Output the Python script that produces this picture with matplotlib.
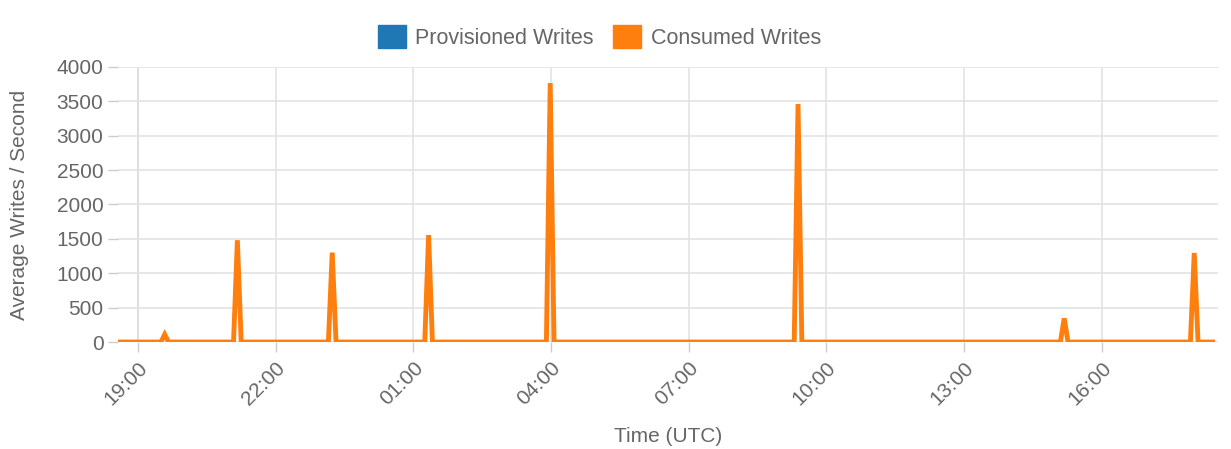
import matplotlib
matplotlib.use("Agg")
import matplotlib.pyplot as plt
import matplotlib.dates as mdates
from matplotlib.patches import Patch
import pandas as pd

# consumed writes: spike times and peak values (5 minute samples, zero otherwise)
spike_times = ["2018-01-01 19:35", "2018-01-01 21:10", "2018-01-01 23:14",
               "2018-01-02 01:20", "2018-01-02 03:59", "2018-01-02 09:23",
               "2018-01-02 15:11", "2018-01-02 18:01"]
spike_values = [110, 1480, 1300, 1555, 3765, 3460, 345, 1295]
series_start = "2018-01-01 18:35"
series_end = "2018-01-02 18:25"
tick_times = pd.date_range("2018-01-01 19:00", periods=8, freq="3h")

t = [pd.Timestamp(series_start)]
v = [0]
step = pd.Timedelta(minutes=5)
for s, val in zip(spike_times, spike_values):
    s = pd.Timestamp(s)
    t += [s - step, s, s + step]
    v += [0, val, 0]
t.append(pd.Timestamp(series_end))
v.append(0)

plt.rcParams['font.family'] = ['Liberation Sans', 'DejaVu Sans']
grey = "#666666"

fig = plt.figure(figsize=(12.31, 4.49), dpi=100)
ax = fig.add_axes([0.0959, 0.2383, 0.8935, 0.6127])

ax.plot(t, v, color="#ff7f0e", lw=3.5, solid_joinstyle="miter")

ax.set_xlim(pd.Timestamp("2018-01-01 18:34"), pd.Timestamp("2018-01-02 18:32"))
ax.set_ylim(0, 4000)
ax.set_yticks(range(0, 4001, 500))
ax.set_xticks(tick_times)
ax.xaxis.set_major_formatter(mdates.DateFormatter("%H:%M"))
for lab in ax.get_xticklabels():
    lab.set_rotation(45)
    lab.set_ha("right")
    lab.set_rotation_mode("anchor")

ax.grid(True, color="#e3e3e3", lw=1.2)
ax.set_axisbelow(True)
for sp in ax.spines.values():
    sp.set_visible(False)
ax.axvline(tick_times[0], color="#c8c8c8", lw=1.2, zorder=0.5)
ax.tick_params(axis="both", colors="#cccccc", labelcolor=grey, labelsize=15,
               length=7, width=1)
ax.tick_params(axis="x", pad=5)

ax.set_ylabel("Average Writes / Second", color=grey, fontsize=15, labelpad=20)
ax.set_xlabel("Time (UTC)", color=grey, fontsize=15, labelpad=13)

handles = [Patch(color="#1f77b4", label="Provisioned Writes"),
           Patch(color="#ff7f0e", label="Consumed Writes")]
leg = fig.legend(handles=handles, loc="center", bbox_to_anchor=(0.487, 0.918),
                 ncol=2, frameon=False, fontsize=15.5, handlelength=1.3,
                 handleheight=1.3, handletextpad=0.45, columnspacing=0.9)
for txt in leg.get_texts():
    txt.set_color(grey)

fig.savefig("out.png", dpi=100)
